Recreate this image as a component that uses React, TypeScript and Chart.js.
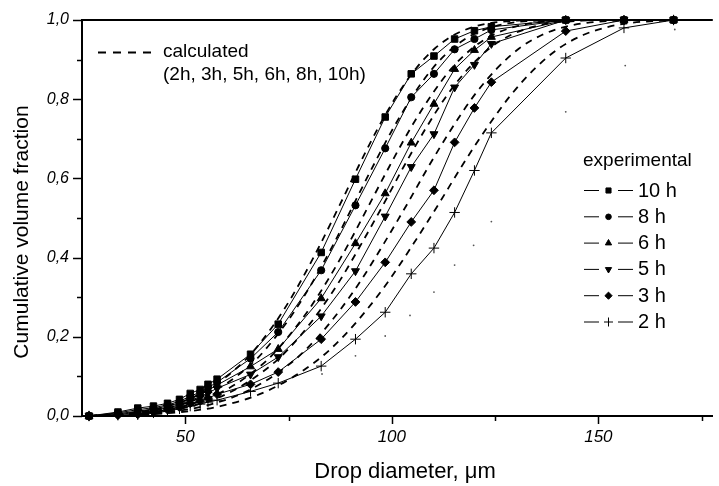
import React, { useEffect, useRef } from 'react';
import { Chart, registerables } from 'chart.js';
import { drawPoint } from 'chart.js/helpers';

Chart.register(...registerables);

// Drop diameter classes (µm)
const diameters = [26.7, 33.7, 38.5, 42.3, 45.7, 48.6, 51.2, 53.6, 55.5, 57.7, 65.8, 72.5, 82.9, 91.2, 98.4, 104.7, 110.2, 115.2, 120.0, 124.1, 142.1, 156.2, 168.2];

// Experimental cumulative volume fractions
const exp10h = [0, 0.01, 0.02, 0.025, 0.032, 0.042, 0.057, 0.067, 0.08, 0.093, 0.156, 0.232, 0.413, 0.598, 0.755, 0.864, 0.909, 0.952, 0.973, 0.983, 1, 1, 1];
const exp8h = [0, 0.008, 0.016, 0.021, 0.028, 0.037, 0.05, 0.06, 0.072, 0.085, 0.145, 0.212, 0.368, 0.532, 0.676, 0.805, 0.864, 0.926, 0.952, 0.975, 1, 1, 1];
const exp6h = [0, 0.006, 0.012, 0.018, 0.025, 0.033, 0.045, 0.054, 0.065, 0.078, 0.125, 0.169, 0.297, 0.436, 0.562, 0.69, 0.788, 0.876, 0.924, 0.957, 1, 1, 1];
const exp5h = [0, 0.004, 0.009, 0.014, 0.021, 0.028, 0.04, 0.048, 0.058, 0.07, 0.105, 0.149, 0.252, 0.366, 0.504, 0.629, 0.712, 0.83, 0.887, 0.94, 1, 1, 1];
const exp3h = [0, 0.002, 0.004, 0.01, 0.016, 0.022, 0.032, 0.038, 0.045, 0.055, 0.08, 0.111, 0.194, 0.288, 0.388, 0.49, 0.57, 0.691, 0.778, 0.843, 0.972, 1, 1];
const exp2h = [0, 0.002, 0.003, 0.008, 0.012, 0.018, 0.025, 0.03, 0.035, 0.04, 0.062, 0.083, 0.126, 0.194, 0.262, 0.359, 0.424, 0.514, 0.62, 0.715, 0.904, 0.98, 1];

// Faint dotted points
const dotsX = [83.1, 91.2, 98.4, 104.4, 110.2, 115.2, 119.8, 124.1, 142.1, 156.5, 168.5];
const dotsY = [0.106, 0.152, 0.202, 0.254, 0.313, 0.381, 0.431, 0.491, 0.768, 0.885, 0.976];

// Calculated curves (shared fraction levels, per-curve diameters)
const calcY = [0, 0.008, 0.025, 0.065, 0.14, 0.196, 0.264, 0.345, 0.436, 0.533, 0.632, 0.726, 0.809, 0.877, 0.928, 0.962, 0.982, 0.993, 1.0];
const calc10hX = [27, 36.8, 46, 55.2, 64.4, 69, 73.6, 78.2, 82.8, 87.4, 92, 96.6, 101.2, 105.8, 110.4, 115, 119.6, 124.2, 133.4];
const calc8hX = [27, 38.2, 47.8, 57.3, 66.9, 71.6, 76.4, 81.2, 86, 90.7, 95.5, 100.3, 105.1, 109.8, 114.6, 119.4, 124.2, 128.9, 138.5];
const calc6hX = [27, 39.8, 49.8, 59.7, 69.7, 74.6, 79.6, 84.6, 89.6, 94.5, 99.5, 104.5, 109.5, 114.4, 119.4, 124.4, 129.4, 134.3, 144.3];
const calc5hX = [27, 41.2, 51.5, 61.8, 72.1, 77.3, 82.4, 87.6, 92.7, 97.9, 103, 108.2, 113.3, 118.5, 123.6, 128.8, 133.9, 139.1, 149.4];
const calc3hX = [27, 43.6, 54.5, 65.4, 76.3, 81.8, 87.2, 92.7, 98.1, 103.6, 109, 114.5, 119.9, 125.4, 130.8, 136.3, 141.7, 147.2, 158];
const calc2hX = [27, 46.8, 58.5, 70.2, 81.9, 87.8, 93.6, 99.5, 105.3, 111.2, 117, 122.9, 128.7, 134.6, 140.4, 146.3, 152.1, 158, 169.7];

// Axis ticks
const xMajorTicks = [50, 100, 150];
const xMinorTicks = [75, 125, 175];
const xTickLabels = ['50', '100', '150'];
const yMajorTicks = [0, 0.2, 0.4, 0.6, 0.8, 1.0];
const yMinorTicks = [0.1, 0.3, 0.5, 0.7, 0.9];
const yTickLabels = ['0,0', '0,2', '0,4', '0,6', '0,8', '1,0'];

const seriesLabels = ['10 h', '8 h', '6 h', '5 h', '3 h', '2 h'];
const FONT = "'Liberation Sans', Arial, Helvetica, sans-serif";

const markerDefs = [
  { style: 'rect', radius: 4.6, rotation: 0, legendRadius: 3.6 },
  { style: 'circle', radius: 3.6, rotation: 0, legendRadius: 2.8 },
  { style: 'triangle', radius: 4.6, rotation: 0, legendRadius: 3.6 },
  { style: 'triangle', radius: 4.6, rotation: 180, legendRadius: 3.6 },
  { style: 'rectRot', radius: 4.4, rotation: 0, legendRadius: 3.6 },
  { style: 'cross', radius: 5.2, rotation: 0, legendRadius: 4.5 },
];

const expSeries = [exp10h, exp8h, exp6h, exp5h, exp3h, exp2h];
const calcSeries = [calc10hX, calc8hX, calc6hX, calc5hX, calc3hX, calc2hX];

const decorPlugin = {
  id: 'decor',
  afterDraw(chart: any) {
    const { ctx, chartArea, scales } = chart;
    const xs = scales.x;
    const ys = scales.y;
    ctx.save();
    ctx.strokeStyle = '#000';
    ctx.fillStyle = '#000';
    // top frame line
    ctx.lineWidth = 2;
    ctx.beginPath();
    ctx.moveTo(chartArea.left - 1, chartArea.top);
    ctx.lineTo(chartArea.right, chartArea.top);
    ctx.stroke();
    // ticks
    ctx.lineWidth = 1.5;
    const yTick = (v: number, len: number) => {
      const py = Math.round(ys.getPixelForValue(v)) + 0.5;
      ctx.beginPath();
      ctx.moveTo(chartArea.left - len, py);
      ctx.lineTo(chartArea.left, py);
      ctx.stroke();
    };
    const xTick = (v: number, len: number) => {
      const px = Math.round(xs.getPixelForValue(v)) + 0.5;
      ctx.beginPath();
      ctx.moveTo(px, chartArea.bottom);
      ctx.lineTo(px, chartArea.bottom + len);
      ctx.stroke();
    };
    yMajorTicks.forEach((v) => yTick(v, 9));
    yMinorTicks.forEach((v) => yTick(v, 5));
    xMajorTicks.forEach((v) => xTick(v, 8));
    xMinorTicks.forEach((v) => xTick(v, 5));

    // axis titles
    ctx.textAlign = 'center';
    ctx.textBaseline = 'middle';
    ctx.font = `21px ${FONT}`;
    ctx.save();
    ctx.translate(22, 232);
    ctx.rotate(-Math.PI / 2);
    ctx.fillText('Cumulative volume fraction', 0, 0);
    ctx.restore();
    ctx.font = `22px ${FONT}`;
    ctx.fillText('Drop diameter, \u03BCm', 405, 472);

    // calculated legend
    ctx.lineWidth = 2;
    ctx.setLineDash([8, 7]);
    ctx.beginPath();
    ctx.moveTo(98, 52.5);
    ctx.lineTo(153, 52.5);
    ctx.stroke();
    ctx.setLineDash([]);
    ctx.textAlign = 'left';
    ctx.textBaseline = 'alphabetic';
    ctx.font = `19px ${FONT}`;
    ctx.fillText('calculated', 163, 57);
    ctx.fillText('(2h, 3h, 5h, 6h, 8h, 10h)', 163, 80);

    // experimental legend
    ctx.fillText('experimental', 583, 166);
    ctx.font = `20px ${FONT}`;
    ctx.textBaseline = 'middle';
    seriesLabels.forEach((lab, i) => {
      const y = 190 + i * 26.3;
      ctx.lineWidth = 1;
      ctx.beginPath();
      ctx.moveTo(584, y + 0.5);
      ctx.lineTo(599, y + 0.5);
      ctx.moveTo(618, y + 0.5);
      ctx.lineTo(633, y + 0.5);
      ctx.stroke();
      const m = markerDefs[i];
      ctx.fillStyle = '#000';
      ctx.strokeStyle = '#000';
      drawPoint(ctx, { pointStyle: m.style, radius: m.legendRadius, rotation: m.rotation, borderWidth: 1 }, 608.5, y + 0.5);
      ctx.fillText(lab, 638, y + 1);
    });
    ctx.restore();
  },
};

export default function App() {
  const ref = useRef<HTMLCanvasElement>(null);
  useEffect(() => {
    if (!ref.current) return;
    const calcDatasets = calcSeries.map((xsArr, i) => ({
      label: 'calc ' + seriesLabels[i],
      data: xsArr.map((x, j) => ({ x, y: calcY[j] })),
      showLine: true,
      borderColor: '#000',
      borderWidth: 1.8,
      borderDash: [7, 6],
      pointRadius: 0,
      cubicInterpolationMode: 'monotone' as const,
      fill: false,
      clip: 6,
    }));
    const expDatasets = expSeries.map((arr, i) => ({
      label: seriesLabels[i],
      data: arr.map((y, j) => ({ x: diameters[j], y })),
      showLine: true,
      borderColor: '#000',
      borderWidth: 1,
      pointStyle: markerDefs[i].style,
      pointRotation: markerDefs[i].rotation,
      pointRadius: markerDefs[i].radius,
      pointBackgroundColor: '#000',
      pointBorderColor: '#000',
      pointBorderWidth: 1,
      tension: 0,
      fill: false,
      clip: 8,
    }));
    const dotsDataset = {
      label: 'dots',
      data: dotsX.map((x, j) => ({ x, y: dotsY[j] })),
      showLine: false,
      pointRadius: 0.9,
      pointBackgroundColor: '#555',
      pointBorderWidth: 0,
      clip: 4,
    };
    const chart = new Chart(ref.current, {
      type: 'scatter',
      data: { datasets: [...calcDatasets, ...expDatasets, dotsDataset] as any },
      options: {
        animation: false,
        responsive: false,
        maintainAspectRatio: false,
        layout: { padding: { top: 20, left: 0, right: 0, bottom: 0 } },
        plugins: { legend: { display: false }, tooltip: { enabled: false } },
        scales: {
          x: {
            type: 'linear',
            min: 25,
            max: 177.7,
            border: { display: true, color: '#000', width: 2 },
            grid: { display: true, drawOnChartArea: false, drawTicks: true, tickLength: 8, color: 'rgba(0,0,0,0)' },
            afterBuildTicks: (s: any) => {
              s.ticks = [...xMajorTicks, ...xMinorTicks].sort((a, b) => a - b).map((v) => ({ value: v }));
            },
            afterFit: (s: any) => {
              s.height = 70;
            },
            ticks: {
              autoSkip: false,
              maxRotation: 0,
              padding: 3,
              color: '#000',
              font: { family: FONT, size: 17, style: 'italic' },
              callback: (v: any) => {
                const k = xMajorTicks.indexOf(Number(v));
                return k >= 0 ? xTickLabels[k] : '';
              },
            },
          },
          y: {
            type: 'linear',
            min: 0,
            max: 1,
            border: { display: true, color: '#000', width: 2 },
            grid: { display: true, drawOnChartArea: false, drawTicks: true, tickLength: 9, color: 'rgba(0,0,0,0)' },
            afterBuildTicks: (s: any) => {
              s.ticks = [...yMajorTicks, ...yMinorTicks].sort((a, b) => a - b).map((v) => ({ value: v }));
            },
            afterFit: (s: any) => {
              s.width = 82;
            },
            ticks: {
              autoSkip: false,
              padding: 4,
              color: '#000',
              font: { family: FONT, size: 16, style: 'italic' },
              callback: (v: any) => {
                const k = yMajorTicks.findIndex((t) => Math.abs(t - Number(v)) < 1e-6);
                return k >= 0 ? yTickLabels[k] : '';
              },
            },
          },
        },
      } as any,
      plugins: [decorPlugin],
    });
    return () => chart.destroy();
  }, []);
  return (
    <div style={{ position: 'fixed', left: 0, top: 0, width: 719, height: 486, background: '#fff' }}>
      <canvas ref={ref} width={719} height={486} style={{ display: 'block', width: 719, height: 486 }} />
    </div>
  );
}
